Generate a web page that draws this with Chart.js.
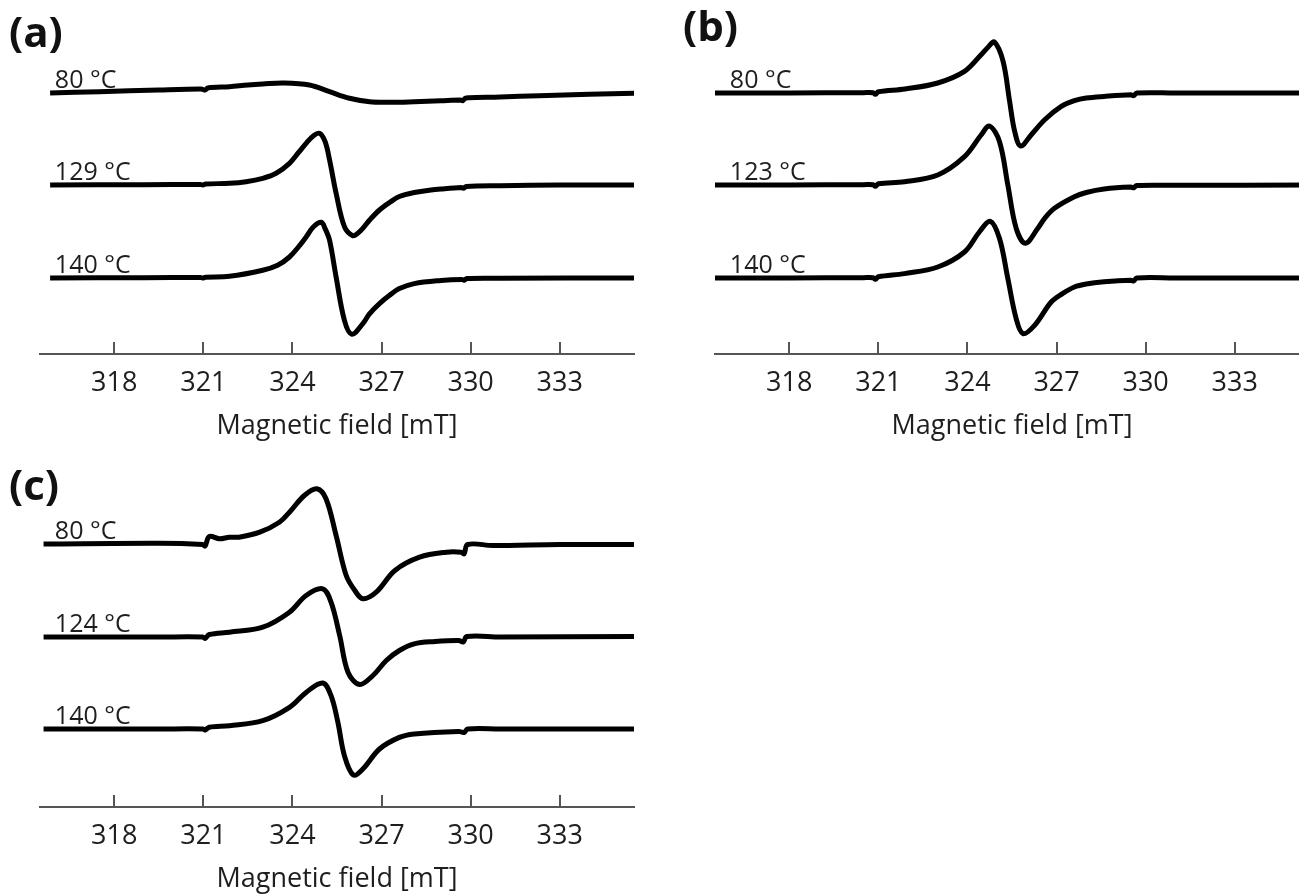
<!DOCTYPE html>
<html>
<head>
<meta charset="utf-8">
<script src="https://cdn.jsdelivr.net/npm/chart.js@4.4.1/dist/chart.umd.min.js"></script>
<style>
  html, body { margin: 0; padding: 0; background: #fff; overflow: hidden; }
  body { position: relative; width: 1299px; height: 895px; }
  .panel { position: absolute; width: 650px; height: 450px; }
  .letter { position: absolute; font: bold 42px 'Open Sans', sans-serif; line-height: 1; color: #111; }
</style>
</head>
<body>
<div class="panel" style="left:0;top:0"><canvas id="chartA" width="650" height="450"></canvas></div>
<div class="panel" style="left:675px;top:0"><canvas id="chartB" width="650" height="450"></canvas></div>
<div class="panel" style="left:0;top:453px"><canvas id="chartC" width="650" height="450"></canvas></div>
<div class="letter" style="left:9px;top:10px">(a)</div>
<div class="letter" style="left:683px;top:4px">(b)</div>
<div class="letter" style="left:9px;top:463px">(c)</div>

<script>
'use strict';

// x axis (magnetic field, mT)
const fieldMin = 315.5, fieldMax = 335.5;
const fieldTicks = [318, 321, 324, 327, 330, 333];
const labelField = 316.0; // where the temperature labels start

// (a) offsets of the three traces, and temperature labels
const tempsA = ['80 °C', '129 °C', '140 °C'];
const offsetsA = [261, 169, 76];

const a80Field = [315.84, 317.5, 319.5, 320.9, 320.98, 321.06, 321.15, 321.88, 322.5, 323.0, 323.7, 324.57, 325.25, 325.92, 326.6, 327.25, 327.6, 328.1, 329.0, 329.65, 329.74, 329.82, 329.95, 331.0, 332.3, 334.0, 335.5];
const a80Signal = [0, 1.3, 3, 4, 3.6, 3.0, 5.0, 6.3, 8, 9, 10, 8, 1.3, -5.3, -8.7, -9.3, -9.3, -8.7, -7.7, -7.0, -7.6, -5.2, -4.7, -4.0, -2.7, -1.3, -0.3];

const a129Field = [315.84, 319.0, 320.9, 320.98, 321.08, 321.88, 322.44, 323.0, 323.45, 323.9, 324.2, 324.46, 324.7, 324.91, 325.1, 325.25, 325.47, 325.75, 326.03, 326.2, 326.37, 326.6, 326.93, 327.27, 327.6, 328.1, 328.6, 329.0, 329.68, 329.76, 329.85, 331.0, 333.0, 335.5];
const a129Signal = [0, 0.3, 0.5, 0.0, 1.0, 1.7, 3.3, 6.7, 11.7, 21.7, 32.3, 41.7, 49, 51.7, 43.3, 25, -8.3, -41.7, -50.7, -48.3, -43.3, -35, -25, -17.5, -11.5, -7.5, -5.3, -4, -2.5, -3.2, -1.5, -0.7, 0, 0];

const a140Field = [315.84, 319.0, 320.9, 320.98, 321.08, 321.88, 323.0, 323.5, 323.9, 324.2, 324.46, 324.7, 324.97, 325.1, 325.25, 325.47, 325.75, 326.0, 326.37, 326.6, 326.93, 327.27, 327.6, 328.1, 329.0, 329.7, 329.78, 329.87, 331.0, 335.5];
const a140Signal = [0, 0.3, 0.5, 0, 0.8, 1.7, 7.7, 12.7, 21, 31, 41, 51, 55.7, 49.4, 37.7, 1, -42.3, -56.3, -45.6, -35.6, -25.6, -17.3, -10.6, -5.6, -2.5, -1.5, -2.2, -0.5, -0.2, 0];

// (b)
const tempsB = ['80 °C', '123 °C', '140 °C'];
const offsetsB = [261, 169, 76];

const b80Field = [315.47, 318.0, 320.5, 320.82, 320.9, 321.0, 321.9, 323.0, 323.9, 324.46, 324.7, 324.91, 325.2, 325.42, 325.59, 325.79, 326.15, 326.6, 327.16, 327.6, 328.0, 328.6, 329.5, 329.6, 329.7, 331.0, 335.5];
const b80Signal = [0, 0, 0.3, 0.3, -1.3, 1.2, 4, 10, 21.6, 38.3, 46, 51, 31.6, -8.4, -38.4, -53, -41.7, -26.7, -13.4, -7.7, -5, -3.4, -1.8, -2.6, 0, 0, 0];

const b123Field = [315.47, 318.0, 320.5, 320.82, 320.9, 321.0, 321.88, 323.0, 323.9, 324.46, 324.74, 325.08, 325.36, 325.64, 325.95, 326.37, 326.6, 326.93, 327.6, 328.0, 328.6, 329.5, 329.6, 329.7, 331.0, 335.5];
const b123Signal = [0, 0, 0.3, 0.3, -1.3, 1.2, 3.3, 10, 28.3, 50, 59, 43.3, 0, -43.3, -58.3, -43.3, -33.3, -23.3, -11.7, -7.5, -4, -2, -2.8, -0.5, -0.3, 0];

const b140Field = [315.47, 318.0, 320.5, 320.82, 320.9, 321.0, 321.88, 323.0, 323.9, 324.4, 324.77, 325.08, 325.36, 325.64, 325.87, 326.26, 326.82, 327.2, 327.6, 328.0, 328.6, 329.5, 329.6, 329.7, 331.0, 335.5];
const b140Signal = [0, 0, 0.3, 0.3, -1.3, 1.2, 4.4, 11, 26, 46, 56.7, 39.4, -0.6, -40.6, -55.6, -47.3, -24, -15.6, -9, -6, -3.8, -2.2, -3, 0, 0, 0];

// (c)
const tempsC = ['80 °C', '124 °C', '140 °C'];
const offsetsC = [263, 170, 78];

const c80Field = [315.62, 319.5, 320.98, 321.06, 321.2, 321.54, 321.88, 322.2, 322.9, 323.56, 323.9, 324.4, 324.82, 325.13, 325.47, 325.81, 326.1, 326.37, 326.82, 327.45, 328.28, 329.18, 329.68, 329.78, 329.9, 330.75, 333.0, 335.5];
const c80Signal = [0, 0.8, -0.5, -2, 7.5, 5.2, 6.8, 6.8, 11.8, 21.8, 31.8, 48.5, 55.2, 45.2, 8.5, -31.5, -46.5, -54.8, -48.2, -26.5, -13.2, -8.2, -8.2, -9.8, -0.5, -1.5, -0.5, -0.5];

const c124Field = [315.62, 319.5, 320.98, 321.06, 321.2, 321.88, 323.0, 323.9, 324.46, 325.02, 325.3, 325.59, 325.87, 326.26, 326.71, 327.16, 327.6, 328.1, 328.8, 329.6, 329.75, 329.87, 331.0, 335.5];
const c124Signal = [0, 0, 0, -1.5, 2.5, 4.8, 9.8, 24.8, 41.5, 48.2, 34.8, 1.5, -35.2, -47.5, -38.5, -23.5, -13.5, -6.8, -4.5, -3.5, -5, 0.5, 0, 0.5];

const c140Field = [315.62, 319.5, 320.98, 321.06, 321.2, 321.88, 323.0, 323.9, 324.46, 325.02, 325.3, 325.53, 325.75, 326.05, 326.37, 326.93, 327.6, 328.1, 329.6, 329.78, 329.9, 331.0, 335.5];
const c140Signal = [0, 0, 0, -1, 1.8, 3.3, 8.3, 21.6, 36.6, 46, 33.3, 6.6, -26.7, -46, -40, -20, -8.4, -5, -2.4, -3.5, 0, 0, 0];

// colours
const lineColor = '#000',
  axisColor = '#555',
  textColor = '#1e1e1e';

Chart.defaults.font.family = "'Open Sans', sans-serif";

// ticks pointing up from the axis line, plus the temperature labels
const panelDecor = {
  id: 'panelDecor',
  afterDatasetsDraw(chart, args, opts) {
    const { ctx, chartArea } = chart;
    const x = chart.scales.x, y = chart.scales.y;
    ctx.save();
    ctx.strokeStyle = axisColor;
    ctx.lineWidth = 2;
    x.ticks.forEach(t => {
      const px = Math.round(x.getPixelForValue(t.value));
      ctx.beginPath();
      ctx.moveTo(px, chartArea.bottom);
      ctx.lineTo(px, chartArea.bottom - 12);
      ctx.stroke();
    });
    ctx.fillStyle = textColor;
    ctx.font = "25px 'Open Sans', sans-serif";
    ctx.textAlign = 'left';
    ctx.textBaseline = 'alphabetic';
    opts.labels.forEach((lab, i) => {
      ctx.fillText(lab, x.getPixelForValue(labelField), y.getPixelForValue(opts.offsets[i]) - 5);
    });
    ctx.restore();
  }
};

function makeChart(id, traces, offsets, labels) {
  const datasets = traces.map((tr, k) => ({
    data: tr[0].map((b, i) => ({ x: b, y: offsets[k] + tr[1][i] })),
    borderColor: lineColor,
    borderWidth: 5,
    pointRadius: 0,
    tension: 0.35,
    borderJoinStyle: 'round',
    fill: false
  }));

  return new Chart(document.getElementById(id), {
    type: 'line',
    data: { datasets: datasets },
    options: {
      responsive: false,
      animation: false,
      events: [],
      layout: { padding: { left: 40, right: 16, top: 20, bottom: 10.6 } },
      plugins: {
        legend: { display: false },
        tooltip: { enabled: false },
        panelDecor: { labels: labels, offsets: offsets }
      },
      scales: {
        x: {
          type: 'linear',
          min: fieldMin,
          max: fieldMax,
          afterBuildTicks: s => { s.ticks = fieldTicks.map(v => ({ value: v })); },
          grid: { display: false, drawTicks: false },
          border: { display: true, color: axisColor, width: 2 },
          ticks: { color: textColor, font: { size: 27 }, padding: 13, maxRotation: 0, autoSkip: false },
          title: {
            display: true,
            text: 'Magnetic field [mT]',
            color: textColor,
            font: { size: 27, lineHeight: 1 },
            padding: { top: 0, bottom: 0 }
          }
        },
        y: { display: false, min: 0, max: 334 }
      }
    },
    plugins: [panelDecor]
  });
}

makeChart('chartA', [[a80Field, a80Signal], [a129Field, a129Signal], [a140Field, a140Signal]], offsetsA, tempsA);
makeChart('chartB', [[b80Field, b80Signal], [b123Field, b123Signal], [b140Field, b140Signal]], offsetsB, tempsB);
makeChart('chartC', [[c80Field, c80Signal], [c124Field, c124Signal], [c140Field, c140Signal]], offsetsC, tempsC);
</script>
</body>
</html>
